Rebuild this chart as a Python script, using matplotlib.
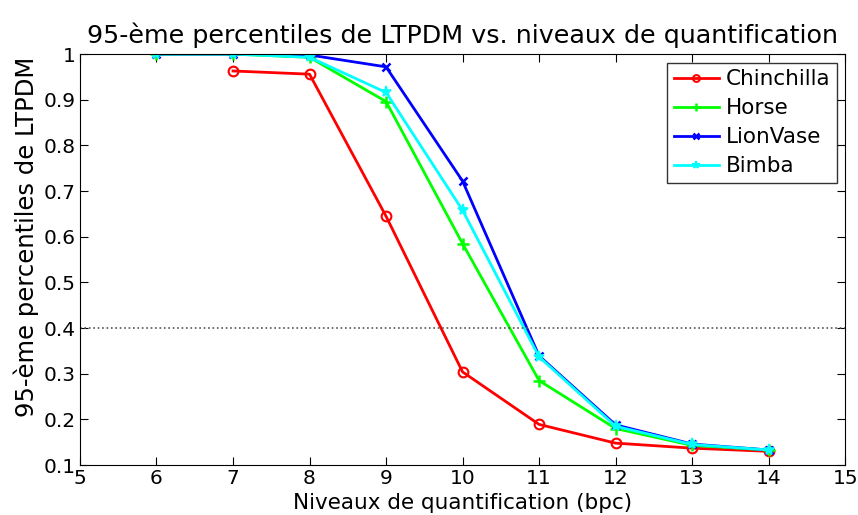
import matplotlib
matplotlib.use('Agg')
import matplotlib.pyplot as plt

# données --- niveaux de quantification
bpc = [6, 7, 8, 9, 10, 11, 12, 13, 14]
chinchilla = [0.963, 0.956, 0.645, 0.304, 0.189, 0.148, 0.137, 0.130]
horse = [1.0, 1.0, 0.993, 0.896, 0.585, 0.285, 0.180, 0.143, 0.133]
lionvase = [1.0, 1.0, 0.998, 0.972, 0.722, 0.339, 0.188, 0.146, 0.133]
bimba = [1.0, 1.0, 0.993, 0.916, 0.658, 0.337, 0.185, 0.145, 0.133]
seuil = 0.4

xticks = list(range(5, 16))
yticks = [0.1, 0.2, 0.3, 0.4, 0.5, 0.6, 0.7, 0.8, 0.9, 1]
ytick_labels = ['0.1', '0.2', '0.3', '0.4', '0.5', '0.6', '0.7', '0.8', '0.9', '1']

fig = plt.figure(figsize=(8.58, 5.15), dpi=100)
ax = fig.add_axes([0.0932, 0.097, 0.8918, 0.798])

ax.plot(bpc[1:], chinchilla, color='#ff0000', marker='o', mfc='none', ms=7, mew=1.5, lw=2, label='Chinchilla')
ax.plot(bpc, horse, color='#00ff00', marker='+', ms=8, mew=1.8, lw=2, label='Horse')
ax.plot(bpc, lionvase, color='#0000ff', marker='x', ms=6, mew=1.8, lw=2, label='LionVase')
ax.plot(bpc, bimba, color='#00ffff', marker='*', ms=8, mew=1.2, lw=2, label='Bimba')
ax.axhline(seuil, color='#555555', ls=':', lw=1.2)

ax.set_xlim(5, 15)
ax.set_ylim(0.1, 1)
ax.set_xticks(xticks)
ax.set_yticks(yticks)
ax.set_yticklabels(ytick_labels)
ax.tick_params(direction='in', top=True, right=True, labelsize=14.5, length=6, pad=3)

ax.set_title('95-ème percentiles de LTPDM vs. niveaux de quantification', fontsize=18.3, pad=8)
ax.set_xlabel('Niveaux de quantification (bpc)', fontsize=15.5)
ax.xaxis.set_label_coords(0.5, -0.067, transform=ax.transAxes)
ax.xaxis.label.set_va('top')
ax.set_ylabel('95-ème percentiles de LTPDM', fontsize=17.5)
ax.yaxis.set_label_coords(-0.054, 0.555)

leg = ax.legend(loc='upper right', fontsize=15.5, fancybox=False, edgecolor='black',
                handlelength=2.1, handletextpad=0.3, labelspacing=0.42, borderpad=0.3,
                markerscale=0.7, borderaxespad=0.4)
leg.get_frame().set_linewidth(1)

plt.savefig('out.png', dpi=100)
